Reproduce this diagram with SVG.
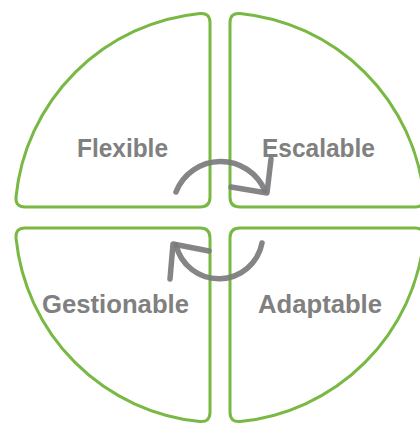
<svg xmlns="http://www.w3.org/2000/svg" width="420" height="424" viewBox="0 0 420 424">
<style>
.q{fill:#ffffff;stroke:#7ab844;stroke-width:3;stroke-linejoin:round}
.t{font-family:"Liberation Sans",Arial,sans-serif;font-weight:bold;font-size:26px;fill:#808080}
.a{fill:none;stroke:#7b7b7d;stroke-width:5.5;stroke-linecap:round;stroke-linejoin:round;opacity:0.92}
</style>
<rect width="420" height="424" fill="#ffffff"/>
<g id="flexible">
<path class="q" d="M210,22.7 L210,197 Q210,207 200,207 L25,207 Q15.3,207 16,197 A205 205 0 0 1 200,13.5 Q210,12.7 210,22.7 Z"/>
<text class="t" x="77" y="157" textLength="91" lengthAdjust="spacingAndGlyphs">Flexible</text>
</g>
<g id="escalable">
<path class="q" d="M230,22.7 L230,197 Q230,207 240,207 L415,207 Q424.7,207 424,197 A205 205 0 0 0 240,13.5 Q230,12.7 230,22.7 Z"/>
<text class="t" x="262" y="157" textLength="113" lengthAdjust="spacingAndGlyphs">Escalable</text>
</g>
<g id="gestionable">
<path class="q" d="M210,238 L210,412.3 Q210,422.3 200,421.5 A205 205 0 0 1 16,238 Q15.3,228 25,228 L200,228 Q210,228 210,238 Z"/>
<text class="t" x="42" y="313" textLength="147" lengthAdjust="spacingAndGlyphs">Gestionable</text>
</g>
<g id="adaptable">
<path class="q" d="M230,238 L230,412.3 Q230,422.3 240,421.5 A205 205 0 0 0 424,238 Q424.7,228 415,228 L240,228 Q230,228 230,238 Z"/>
<text class="t" x="258" y="313" textLength="124" lengthAdjust="spacingAndGlyphs">Adaptable</text>
</g>
<g id="connectors">
<path class="a" d="M176,192 A48 48 0 0 1 265,191"/>
<polyline class="a" points="271,159 267,193 231,187"/>
<path class="a" d="M262,243 A44 44 0 0 1 176,245"/>
<polyline class="a" points="170,279 173,244 209,251"/>
</g>
</svg>
